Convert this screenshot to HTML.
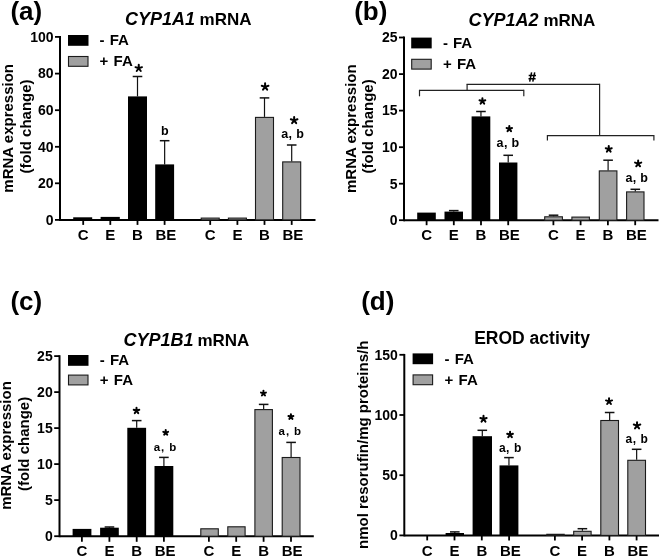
<!DOCTYPE html>
<html><head><meta charset="utf-8"><style>
html,body{margin:0;padding:0;background:#fff;}
svg{display:block;will-change:transform;}
text{font-family:"Liberation Sans", sans-serif;font-weight:bold;fill:#000;}
</style></head><body>
<svg width="660" height="557" viewBox="0 0 660 557">
<rect width="660" height="557" fill="#fff"/>
<text x="10.4" y="19.6" font-size="26" text-anchor="start">(a)</text>
<text x="124.9" y="25.3" font-size="18" text-anchor="start" font-style="italic">CYP1A1</text>
<text x="199.6" y="25.3" font-size="17" text-anchor="start">mRNA</text>
<line x1="60" y1="36.0" x2="60" y2="220.9" stroke="#000" stroke-width="2.0"/>
<line x1="55" y1="36.9" x2="60" y2="36.9" stroke="#000" stroke-width="1.8"/>
<text x="53.5" y="41.699999999999996" font-size="14" text-anchor="end">100</text>
<line x1="55" y1="73.6" x2="60" y2="73.6" stroke="#000" stroke-width="1.8"/>
<text x="53.5" y="78.39999999999999" font-size="14" text-anchor="end">80</text>
<line x1="55" y1="110.2" x2="60" y2="110.2" stroke="#000" stroke-width="1.8"/>
<text x="53.5" y="115.0" font-size="14" text-anchor="end">60</text>
<line x1="55" y1="146.8" x2="60" y2="146.8" stroke="#000" stroke-width="1.8"/>
<text x="53.5" y="151.60000000000002" font-size="14" text-anchor="end">40</text>
<line x1="55" y1="183.3" x2="60" y2="183.3" stroke="#000" stroke-width="1.8"/>
<text x="53.5" y="188.10000000000002" font-size="14" text-anchor="end">20</text>
<line x1="55" y1="219.9" x2="60" y2="219.9" stroke="#000" stroke-width="1.8"/>
<text x="53.5" y="224.70000000000002" font-size="14" text-anchor="end">0</text>
<line x1="60" y1="219.9" x2="315.5" y2="219.9" stroke="#000" stroke-width="2.0"/>
<line x1="83.2" y1="219.9" x2="83.2" y2="224.9" stroke="#000" stroke-width="1.8"/>
<line x1="110.3" y1="219.9" x2="110.3" y2="224.9" stroke="#000" stroke-width="1.8"/>
<line x1="137.5" y1="219.9" x2="137.5" y2="224.9" stroke="#000" stroke-width="1.8"/>
<line x1="164.6" y1="219.9" x2="164.6" y2="224.9" stroke="#000" stroke-width="1.8"/>
<line x1="210.2" y1="219.9" x2="210.2" y2="224.9" stroke="#000" stroke-width="1.8"/>
<line x1="237.4" y1="219.9" x2="237.4" y2="224.9" stroke="#000" stroke-width="1.8"/>
<line x1="264.5" y1="219.9" x2="264.5" y2="224.9" stroke="#000" stroke-width="1.8"/>
<line x1="291.7" y1="219.9" x2="291.7" y2="224.9" stroke="#000" stroke-width="1.8"/>
<text x="83.2" y="239.8" font-size="15" text-anchor="middle">C</text>
<text x="110.3" y="239.8" font-size="15" text-anchor="middle">E</text>
<text x="137.5" y="239.8" font-size="15" text-anchor="middle">B</text>
<text x="165.79999999999998" y="239.8" font-size="15" text-anchor="middle">BE</text>
<text x="210.2" y="239.8" font-size="15" text-anchor="middle">C</text>
<text x="237.4" y="239.8" font-size="15" text-anchor="middle">E</text>
<text x="264.5" y="239.8" font-size="15" text-anchor="middle">B</text>
<text x="292.9" y="239.8" font-size="15" text-anchor="middle">BE</text>
<rect x="73.2" y="217.3" width="19.0" height="2.5999999999999943" fill="#000"/>
<rect x="100.6" y="216.9" width="19.200000000000003" height="3.0" fill="#000"/>
<line x1="137.5" y1="76.5" x2="137.5" y2="96.4" stroke="#111" stroke-width="1.2"/>
<line x1="132.7" y1="76.5" x2="142.3" y2="76.5" stroke="#111" stroke-width="1.5"/>
<rect x="128" y="96.4" width="19" height="123.5" fill="#000"/>
<line x1="164.64999999999998" y1="140.7" x2="164.64999999999998" y2="164.4" stroke="#111" stroke-width="1.2"/>
<line x1="159.84999999999997" y1="140.7" x2="169.45" y2="140.7" stroke="#111" stroke-width="1.5"/>
<rect x="155.2" y="164.4" width="18.900000000000006" height="55.5" fill="#000"/>
<rect x="201.2" y="218.1" width="18.0" height="1.8000000000000114" fill="#a0a0a0" stroke="#1a1a1a" stroke-width="1.1"/>
<rect x="228.4" y="218.1" width="18.0" height="1.8000000000000114" fill="#a0a0a0" stroke="#1a1a1a" stroke-width="1.1"/>
<line x1="264.5" y1="97.9" x2="264.5" y2="116.9" stroke="#111" stroke-width="1.2"/>
<line x1="259.7" y1="97.9" x2="269.3" y2="97.9" stroke="#111" stroke-width="1.5"/>
<rect x="255.5" y="117.4" width="18" height="102.5" fill="#a0a0a0" stroke="#1a1a1a" stroke-width="1.1"/>
<line x1="291.7" y1="145.0" x2="291.7" y2="161.4" stroke="#111" stroke-width="1.2"/>
<line x1="286.9" y1="145.0" x2="296.5" y2="145.0" stroke="#111" stroke-width="1.5"/>
<rect x="282.7" y="161.9" width="18.0" height="58.0" fill="#a0a0a0" stroke="#1a1a1a" stroke-width="1.1"/>
<rect x="68" y="35" width="20.5" height="10.8" fill="#000"/>
<rect x="68.5" y="56.5" width="19.5" height="9.8" fill="#a0a0a0" stroke="#1a1a1a" stroke-width="1.1"/>
<text x="99.6" y="45" font-size="15" text-anchor="start">-</text>
<text x="109.69999999999999" y="45" font-size="15" text-anchor="start">FA</text>
<text x="99.6" y="66.2" font-size="15" text-anchor="start">+</text>
<text x="113.6" y="66.2" font-size="15" text-anchor="start">FA</text>
<text transform="translate(12.6,128.3) rotate(-90)" font-size="15" text-anchor="middle">mRNA expression</text>
<text transform="translate(30.8,126.5) rotate(-90)" font-size="15" text-anchor="middle">(fold change)</text>
<path d="M138.75 68.23L138.75 64.80M138.75 68.23L142.01 67.17M138.75 68.23L140.76 71.00M138.75 68.23L136.74 71.00M138.75 68.23L135.49 67.17" stroke="#000" stroke-width="2.0" stroke-linecap="round" fill="none"/>
<text x="164.79999999999998" y="135.3" font-size="12.5" text-anchor="middle">b</text>
<path d="M265.10 86.84L265.10 83.30M265.10 86.84L268.46 85.74M265.10 86.84L267.18 89.70M265.10 86.84L263.02 89.70M265.10 86.84L261.74 85.74" stroke="#000" stroke-width="2.0" stroke-linecap="round" fill="none"/>
<path d="M294.15 120.38L294.15 116.90M294.15 120.38L297.46 119.31M294.15 120.38L296.20 123.20M294.15 120.38L292.10 123.20M294.15 120.38L290.84 119.31" stroke="#000" stroke-width="2.0" stroke-linecap="round" fill="none"/>
<text x="281.2" y="138.3" font-size="12.5" text-anchor="start" letter-spacing="0.35">a, b</text>
<text x="354.2" y="19.6" font-size="26" text-anchor="start">(b)</text>
<text x="468.5" y="25.7" font-size="18" text-anchor="start" font-style="italic">CYP1A2</text>
<text x="543.4" y="25.7" font-size="17" text-anchor="start">mRNA</text>
<line x1="404" y1="36.6" x2="404" y2="221.2" stroke="#000" stroke-width="2.0"/>
<line x1="399" y1="37.5" x2="404" y2="37.5" stroke="#000" stroke-width="1.8"/>
<text x="397.5" y="42.3" font-size="14" text-anchor="end">25</text>
<line x1="399" y1="74.1" x2="404" y2="74.1" stroke="#000" stroke-width="1.8"/>
<text x="397.5" y="78.89999999999999" font-size="14" text-anchor="end">20</text>
<line x1="399" y1="110.6" x2="404" y2="110.6" stroke="#000" stroke-width="1.8"/>
<text x="397.5" y="115.39999999999999" font-size="14" text-anchor="end">15</text>
<line x1="399" y1="147.2" x2="404" y2="147.2" stroke="#000" stroke-width="1.8"/>
<text x="397.5" y="152.0" font-size="14" text-anchor="end">10</text>
<line x1="399" y1="183.7" x2="404" y2="183.7" stroke="#000" stroke-width="1.8"/>
<text x="397.5" y="188.5" font-size="14" text-anchor="end">5</text>
<line x1="399" y1="220.2" x2="404" y2="220.2" stroke="#000" stroke-width="1.8"/>
<text x="397.5" y="225.0" font-size="14" text-anchor="end">0</text>
<line x1="404" y1="220.2" x2="658.5" y2="220.2" stroke="#000" stroke-width="2.0"/>
<line x1="426.6" y1="220.2" x2="426.6" y2="225.2" stroke="#000" stroke-width="1.8"/>
<line x1="453.8" y1="220.2" x2="453.8" y2="225.2" stroke="#000" stroke-width="1.8"/>
<line x1="481" y1="220.2" x2="481" y2="225.2" stroke="#000" stroke-width="1.8"/>
<line x1="508.2" y1="220.2" x2="508.2" y2="225.2" stroke="#000" stroke-width="1.8"/>
<line x1="553.4" y1="220.2" x2="553.4" y2="225.2" stroke="#000" stroke-width="1.8"/>
<line x1="580.6" y1="220.2" x2="580.6" y2="225.2" stroke="#000" stroke-width="1.8"/>
<line x1="607.9" y1="220.2" x2="607.9" y2="225.2" stroke="#000" stroke-width="1.8"/>
<line x1="635.2" y1="220.2" x2="635.2" y2="225.2" stroke="#000" stroke-width="1.8"/>
<text x="426.6" y="240.3" font-size="15" text-anchor="middle">C</text>
<text x="453.8" y="240.3" font-size="15" text-anchor="middle">E</text>
<text x="481" y="240.3" font-size="15" text-anchor="middle">B</text>
<text x="509.4" y="240.3" font-size="15" text-anchor="middle">BE</text>
<text x="553.4" y="240.3" font-size="15" text-anchor="middle">C</text>
<text x="580.6" y="240.3" font-size="15" text-anchor="middle">E</text>
<text x="607.9" y="240.3" font-size="15" text-anchor="middle">B</text>
<text x="636.4000000000001" y="240.3" font-size="15" text-anchor="middle">BE</text>
<rect x="417.2" y="212.6" width="18.600000000000023" height="7.599999999999994" fill="#000"/>
<line x1="453.75" y1="210.6" x2="453.75" y2="211.6" stroke="#111" stroke-width="1.2"/>
<line x1="448.95" y1="210.6" x2="458.55" y2="210.6" stroke="#111" stroke-width="1.5"/>
<rect x="444.5" y="211.6" width="18.5" height="8.599999999999994" fill="#000"/>
<line x1="480.95000000000005" y1="111.5" x2="480.95000000000005" y2="116.4" stroke="#111" stroke-width="1.2"/>
<line x1="476.15000000000003" y1="111.5" x2="485.75000000000006" y2="111.5" stroke="#111" stroke-width="1.5"/>
<rect x="471.6" y="116.4" width="18.69999999999999" height="103.79999999999998" fill="#000"/>
<line x1="508.2" y1="155.3" x2="508.2" y2="162.5" stroke="#111" stroke-width="1.2"/>
<line x1="503.4" y1="155.3" x2="513.0" y2="155.3" stroke="#111" stroke-width="1.5"/>
<rect x="499" y="162.5" width="18.399999999999977" height="57.69999999999999" fill="#000"/>
<line x1="553.55" y1="215.2" x2="553.55" y2="216.3" stroke="#111" stroke-width="1.2"/>
<line x1="548.75" y1="215.2" x2="558.3499999999999" y2="215.2" stroke="#111" stroke-width="1.5"/>
<rect x="544.7" y="216.8" width="17.699999999999932" height="3.3999999999999773" fill="#a0a0a0" stroke="#1a1a1a" stroke-width="1.1"/>
<rect x="571.9" y="217.1" width="17.5" height="3.0999999999999943" fill="#a0a0a0" stroke="#1a1a1a" stroke-width="1.1"/>
<line x1="608.0999999999999" y1="160.2" x2="608.0999999999999" y2="170.4" stroke="#111" stroke-width="1.2"/>
<line x1="603.3" y1="160.2" x2="612.8999999999999" y2="160.2" stroke="#111" stroke-width="1.5"/>
<rect x="599.3" y="170.9" width="17.600000000000023" height="49.29999999999998" fill="#a0a0a0" stroke="#1a1a1a" stroke-width="1.1"/>
<line x1="635.3" y1="189.3" x2="635.3" y2="191.4" stroke="#111" stroke-width="1.2"/>
<line x1="630.5" y1="189.3" x2="640.0999999999999" y2="189.3" stroke="#111" stroke-width="1.5"/>
<rect x="626.6" y="191.9" width="17.399999999999977" height="28.299999999999983" fill="#a0a0a0" stroke="#1a1a1a" stroke-width="1.1"/>
<rect x="411.2" y="37.6" width="20.5" height="10.8" fill="#000"/>
<rect x="411.7" y="59.3" width="19.5" height="9.8" fill="#a0a0a0" stroke="#1a1a1a" stroke-width="1.1"/>
<text x="442.9" y="48" font-size="15" text-anchor="start">-</text>
<text x="453.0" y="48" font-size="15" text-anchor="start">FA</text>
<text x="442.9" y="69.4" font-size="15" text-anchor="start">+</text>
<text x="456.9" y="69.4" font-size="15" text-anchor="start">FA</text>
<text transform="translate(356,128.7) rotate(-90)" font-size="15" text-anchor="middle">mRNA expression</text>
<text transform="translate(373.3,126.4) rotate(-90)" font-size="15" text-anchor="middle">(fold change)</text>
<path d="M482.40 101.24L482.40 98.20M482.40 101.24L485.29 100.30M482.40 101.24L484.19 103.70M482.40 101.24L480.61 103.70M482.40 101.24L479.51 100.30" stroke="#000" stroke-width="2.0" stroke-linecap="round" fill="none"/>
<path d="M509.30 128.87L509.30 126.00M509.30 128.87L512.03 127.99M509.30 128.87L510.99 131.20M509.30 128.87L507.61 131.20M509.30 128.87L506.57 127.99" stroke="#000" stroke-width="2.0" stroke-linecap="round" fill="none"/>
<text x="496.6" y="146.5" font-size="12.5" text-anchor="start" letter-spacing="0.35">a, b</text>
<path d="M608.75 149.15L608.75 146.00M608.75 149.15L611.75 148.18M608.75 149.15L610.60 151.70M608.75 149.15L606.90 151.70M608.75 149.15L605.75 148.18" stroke="#000" stroke-width="2.0" stroke-linecap="round" fill="none"/>
<path d="M638.15 163.66L638.15 160.40M638.15 163.66L641.25 162.65M638.15 163.66L640.07 166.30M638.15 163.66L636.23 166.30M638.15 163.66L635.05 162.65" stroke="#000" stroke-width="2.0" stroke-linecap="round" fill="none"/>
<text x="625.4" y="181.7" font-size="12.5" text-anchor="start" letter-spacing="0.35">a, b</text>
<text x="10.4" y="310" font-size="26" text-anchor="start">(c)</text>
<text x="123.5" y="345.6" font-size="18" text-anchor="start" font-style="italic">CYP1B1</text>
<text x="197.4" y="345.6" font-size="17" text-anchor="start">mRNA</text>
<line x1="59.5" y1="355.20000000000005" x2="59.5" y2="537.2" stroke="#000" stroke-width="2.0"/>
<line x1="54.2" y1="356.1" x2="59.5" y2="356.1" stroke="#000" stroke-width="1.8"/>
<text x="52.7" y="360.90000000000003" font-size="14" text-anchor="end">25</text>
<line x1="54.2" y1="392.1" x2="59.5" y2="392.1" stroke="#000" stroke-width="1.8"/>
<text x="52.7" y="396.90000000000003" font-size="14" text-anchor="end">20</text>
<line x1="54.2" y1="428.1" x2="59.5" y2="428.1" stroke="#000" stroke-width="1.8"/>
<text x="52.7" y="432.90000000000003" font-size="14" text-anchor="end">15</text>
<line x1="54.2" y1="464.1" x2="59.5" y2="464.1" stroke="#000" stroke-width="1.8"/>
<text x="52.7" y="468.90000000000003" font-size="14" text-anchor="end">10</text>
<line x1="54.2" y1="500.1" x2="59.5" y2="500.1" stroke="#000" stroke-width="1.8"/>
<text x="52.7" y="504.90000000000003" font-size="14" text-anchor="end">5</text>
<line x1="54.2" y1="536.2" x2="59.5" y2="536.2" stroke="#000" stroke-width="1.8"/>
<text x="52.7" y="541.0" font-size="14" text-anchor="end">0</text>
<line x1="59.5" y1="536.2" x2="313.8" y2="536.2" stroke="#000" stroke-width="2.0"/>
<line x1="81.9" y1="536.2" x2="81.9" y2="541.8000000000001" stroke="#000" stroke-width="1.8"/>
<line x1="109.4" y1="536.2" x2="109.4" y2="541.8000000000001" stroke="#000" stroke-width="1.8"/>
<line x1="136.7" y1="536.2" x2="136.7" y2="541.8000000000001" stroke="#000" stroke-width="1.8"/>
<line x1="163.9" y1="536.2" x2="163.9" y2="541.8000000000001" stroke="#000" stroke-width="1.8"/>
<line x1="208.9" y1="536.2" x2="208.9" y2="541.8000000000001" stroke="#000" stroke-width="1.8"/>
<line x1="236.2" y1="536.2" x2="236.2" y2="541.8000000000001" stroke="#000" stroke-width="1.8"/>
<line x1="263.6" y1="536.2" x2="263.6" y2="541.8000000000001" stroke="#000" stroke-width="1.8"/>
<line x1="291" y1="536.2" x2="291" y2="541.8000000000001" stroke="#000" stroke-width="1.8"/>
<text x="81.9" y="555.8" font-size="15" text-anchor="middle">C</text>
<text x="109.4" y="555.8" font-size="15" text-anchor="middle">E</text>
<text x="136.7" y="555.8" font-size="15" text-anchor="middle">B</text>
<text x="165.1" y="555.8" font-size="15" text-anchor="middle">BE</text>
<text x="208.9" y="555.8" font-size="15" text-anchor="middle">C</text>
<text x="236.2" y="555.8" font-size="15" text-anchor="middle">E</text>
<text x="263.6" y="555.8" font-size="15" text-anchor="middle">B</text>
<text x="292.2" y="555.8" font-size="15" text-anchor="middle">BE</text>
<rect x="72.6" y="528.9" width="18.80000000000001" height="7.300000000000068" fill="#000"/>
<line x1="109.44999999999999" y1="527.0" x2="109.44999999999999" y2="527.7" stroke="#111" stroke-width="1.2"/>
<line x1="104.64999999999999" y1="527.0" x2="114.24999999999999" y2="527.0" stroke="#111" stroke-width="1.5"/>
<rect x="100.1" y="527.7" width="18.700000000000003" height="8.5" fill="#000"/>
<line x1="136.7" y1="420.6" x2="136.7" y2="427.8" stroke="#111" stroke-width="1.2"/>
<line x1="131.89999999999998" y1="420.6" x2="141.5" y2="420.6" stroke="#111" stroke-width="1.5"/>
<rect x="127.3" y="427.8" width="18.799999999999997" height="108.40000000000003" fill="#000"/>
<line x1="163.9" y1="457.4" x2="163.9" y2="466" stroke="#111" stroke-width="1.2"/>
<line x1="159.1" y1="457.4" x2="168.70000000000002" y2="457.4" stroke="#111" stroke-width="1.5"/>
<rect x="154.5" y="466" width="18.80000000000001" height="70.20000000000005" fill="#000"/>
<rect x="200.8" y="528.8" width="17.5" height="7.400000000000091" fill="#a0a0a0" stroke="#1a1a1a" stroke-width="1.1"/>
<rect x="227.8" y="526.8" width="17.299999999999983" height="9.400000000000091" fill="#a0a0a0" stroke="#1a1a1a" stroke-width="1.1"/>
<line x1="263.65" y1="404.4" x2="263.65" y2="409.1" stroke="#111" stroke-width="1.2"/>
<line x1="258.84999999999997" y1="404.4" x2="268.45" y2="404.4" stroke="#111" stroke-width="1.5"/>
<rect x="254.9" y="409.6" width="17.49999999999997" height="126.60000000000002" fill="#a0a0a0" stroke="#1a1a1a" stroke-width="1.1"/>
<line x1="291.1" y1="442.4" x2="291.1" y2="457" stroke="#111" stroke-width="1.2"/>
<line x1="286.3" y1="442.4" x2="295.90000000000003" y2="442.4" stroke="#111" stroke-width="1.5"/>
<rect x="282.2" y="457.5" width="17.80000000000001" height="78.70000000000005" fill="#a0a0a0" stroke="#1a1a1a" stroke-width="1.1"/>
<rect x="68" y="355" width="20.5" height="10.8" fill="#000"/>
<rect x="68.5" y="375.1" width="19.5" height="9.8" fill="#a0a0a0" stroke="#1a1a1a" stroke-width="1.1"/>
<text x="99.8" y="364.8" font-size="15" text-anchor="start">-</text>
<text x="109.89999999999999" y="364.8" font-size="15" text-anchor="start">FA</text>
<text x="99.8" y="384.6" font-size="15" text-anchor="start">+</text>
<text x="113.8" y="384.6" font-size="15" text-anchor="start">FA</text>
<text transform="translate(11,445.5) rotate(-90)" font-size="15" text-anchor="middle">mRNA expression</text>
<text transform="translate(29.2,443.9) rotate(-90)" font-size="15" text-anchor="middle">(fold change)</text>
<path d="M136.50 410.73L136.50 407.80M136.50 410.73L139.29 409.82M136.50 410.73L138.22 413.10M136.50 410.73L134.78 413.10M136.50 410.73L133.71 409.82" stroke="#000" stroke-width="2.0" stroke-linecap="round" fill="none"/>
<path d="M165.70 432.64L165.70 430.10M165.70 432.64L168.12 431.86M165.70 432.64L167.19 434.70M165.70 432.64L164.21 434.70M165.70 432.64L163.28 431.86" stroke="#000" stroke-width="2.0" stroke-linecap="round" fill="none"/>
<text x="153.8" y="450.9" font-size="11.5" text-anchor="start" letter-spacing="0.9">a, b</text>
<path d="M263.45 393.40L263.45 390.80M263.45 393.40L265.92 392.60M263.45 393.40L264.98 395.50M263.45 393.40L261.92 395.50M263.45 393.40L260.98 392.60" stroke="#000" stroke-width="2.0" stroke-linecap="round" fill="none"/>
<path d="M290.90 416.80L290.90 414.20M290.90 416.80L293.37 416.00M290.90 416.80L292.43 418.90M290.90 416.80L289.37 418.90M290.90 416.80L288.43 416.00" stroke="#000" stroke-width="2.0" stroke-linecap="round" fill="none"/>
<text x="278.6" y="434.8" font-size="11.5" text-anchor="start" letter-spacing="0.9">a, b</text>
<text x="361.2" y="309.8" font-size="26" text-anchor="start">(d)</text>
<text x="474.2" y="343.7" font-size="17.5" text-anchor="start">EROD activity</text>
<line x1="404.3" y1="353.90000000000003" x2="404.3" y2="536.4" stroke="#000" stroke-width="2.0"/>
<line x1="399.4" y1="354.8" x2="404.3" y2="354.8" stroke="#000" stroke-width="1.8"/>
<text x="397.9" y="359.6" font-size="14" text-anchor="end">150</text>
<line x1="399.4" y1="415" x2="404.3" y2="415" stroke="#000" stroke-width="1.8"/>
<text x="397.9" y="419.8" font-size="14" text-anchor="end">100</text>
<line x1="399.4" y1="475.2" x2="404.3" y2="475.2" stroke="#000" stroke-width="1.8"/>
<text x="397.9" y="480.0" font-size="14" text-anchor="end">50</text>
<line x1="399.4" y1="535.4" x2="404.3" y2="535.4" stroke="#000" stroke-width="1.8"/>
<text x="397.9" y="540.1999999999999" font-size="14" text-anchor="end">0</text>
<line x1="404.3" y1="535.4" x2="659" y2="535.4" stroke="#000" stroke-width="2.0"/>
<line x1="427.2" y1="535.4" x2="427.2" y2="540.4" stroke="#000" stroke-width="1.8"/>
<line x1="454.5" y1="535.4" x2="454.5" y2="540.4" stroke="#000" stroke-width="1.8"/>
<line x1="481.8" y1="535.4" x2="481.8" y2="540.4" stroke="#000" stroke-width="1.8"/>
<line x1="509.1" y1="535.4" x2="509.1" y2="540.4" stroke="#000" stroke-width="1.8"/>
<line x1="554.9" y1="535.4" x2="554.9" y2="540.4" stroke="#000" stroke-width="1.8"/>
<line x1="582.1" y1="535.4" x2="582.1" y2="540.4" stroke="#000" stroke-width="1.8"/>
<line x1="609.4" y1="535.4" x2="609.4" y2="540.4" stroke="#000" stroke-width="1.8"/>
<line x1="636.6" y1="535.4" x2="636.6" y2="540.4" stroke="#000" stroke-width="1.8"/>
<text x="427.2" y="555.5" font-size="15" text-anchor="middle">C</text>
<text x="454.5" y="555.5" font-size="15" text-anchor="middle">E</text>
<text x="481.8" y="555.5" font-size="15" text-anchor="middle">B</text>
<text x="510.3" y="555.5" font-size="15" text-anchor="middle">BE</text>
<text x="554.9" y="555.5" font-size="15" text-anchor="middle">C</text>
<text x="582.1" y="555.5" font-size="15" text-anchor="middle">E</text>
<text x="609.4" y="555.5" font-size="15" text-anchor="middle">B</text>
<text x="637.8000000000001" y="555.5" font-size="15" text-anchor="middle">BE</text>
<line x1="454.8" y1="531.9" x2="454.8" y2="533.0" stroke="#111" stroke-width="1.2"/>
<line x1="450.0" y1="531.9" x2="459.6" y2="531.9" stroke="#111" stroke-width="1.5"/>
<rect x="445.6" y="533.0" width="18.399999999999977" height="2.3999999999999773" fill="#000"/>
<line x1="482.3" y1="430.3" x2="482.3" y2="436.2" stroke="#111" stroke-width="1.2"/>
<line x1="477.5" y1="430.3" x2="487.1" y2="430.3" stroke="#111" stroke-width="1.5"/>
<rect x="472.6" y="436.2" width="19.399999999999977" height="99.19999999999999" fill="#000"/>
<line x1="508.95" y1="457.6" x2="508.95" y2="465.4" stroke="#111" stroke-width="1.2"/>
<line x1="504.15" y1="457.6" x2="513.75" y2="457.6" stroke="#111" stroke-width="1.5"/>
<rect x="499.5" y="465.4" width="18.899999999999977" height="70.0" fill="#000"/>
<rect x="546.8" y="534.3" width="17.40000000000009" height="1.1000000000000227" fill="#a0a0a0" stroke="#1a1a1a" stroke-width="1.1"/>
<line x1="582.4000000000001" y1="528.7" x2="582.4000000000001" y2="530.8" stroke="#111" stroke-width="1.2"/>
<line x1="577.6000000000001" y1="528.7" x2="587.2" y2="528.7" stroke="#111" stroke-width="1.5"/>
<rect x="573.7" y="531.3" width="17.399999999999977" height="4.100000000000023" fill="#a0a0a0" stroke="#1a1a1a" stroke-width="1.1"/>
<line x1="609.65" y1="412.5" x2="609.65" y2="420" stroke="#111" stroke-width="1.2"/>
<line x1="604.85" y1="412.5" x2="614.4499999999999" y2="412.5" stroke="#111" stroke-width="1.5"/>
<rect x="600.8" y="420.5" width="17.700000000000045" height="114.89999999999998" fill="#a0a0a0" stroke="#1a1a1a" stroke-width="1.1"/>
<line x1="636.65" y1="449.3" x2="636.65" y2="459.8" stroke="#111" stroke-width="1.2"/>
<line x1="631.85" y1="449.3" x2="641.4499999999999" y2="449.3" stroke="#111" stroke-width="1.5"/>
<rect x="627.8" y="460.3" width="17.700000000000045" height="75.09999999999997" fill="#a0a0a0" stroke="#1a1a1a" stroke-width="1.1"/>
<rect x="412.6" y="353.4" width="20.5" height="10.8" fill="#000"/>
<rect x="413.1" y="374.9" width="19.5" height="9.8" fill="#a0a0a0" stroke="#1a1a1a" stroke-width="1.1"/>
<text x="444.6" y="363.8" font-size="15" text-anchor="start">-</text>
<text x="454.70000000000005" y="363.8" font-size="15" text-anchor="start">FA</text>
<text x="444.6" y="384.6" font-size="15" text-anchor="start">+</text>
<text x="458.6" y="384.6" font-size="15" text-anchor="start">FA</text>
<text transform="translate(368.3,444.8) rotate(-90)" font-size="15" text-anchor="middle">nmol resorufin/mg proteins/h</text>
<path d="M483.50 419.02L483.50 415.70M483.50 419.02L486.65 417.99M483.50 419.02L485.45 421.70M483.50 419.02L481.55 421.70M483.50 419.02L480.35 417.99" stroke="#000" stroke-width="2.0" stroke-linecap="round" fill="none"/>
<path d="M510.05 434.69L510.05 431.70M510.05 434.69L512.89 433.76M510.05 434.69L511.80 437.10M510.05 434.69L508.30 437.10M510.05 434.69L507.21 433.76" stroke="#000" stroke-width="2.0" stroke-linecap="round" fill="none"/>
<text x="498.9" y="452.2" font-size="12" text-anchor="start" letter-spacing="0.55">a, b</text>
<path d="M609.05 401.41L609.05 398.20M609.05 401.41L612.10 400.42M609.05 401.41L610.93 404.00M609.05 401.41L607.17 404.00M609.05 401.41L606.00 400.42" stroke="#000" stroke-width="2.0" stroke-linecap="round" fill="none"/>
<path d="M637.05 425.63L637.05 422.20M637.05 425.63L640.31 424.57M637.05 425.63L639.06 428.40M637.05 425.63L635.04 428.40M637.05 425.63L633.79 424.57" stroke="#000" stroke-width="2.0" stroke-linecap="round" fill="none"/>
<text x="625.5" y="442.9" font-size="12" text-anchor="start" letter-spacing="0.55">a, b</text>
<line x1="419.5" y1="90.4" x2="523.8" y2="90.4" stroke="#222" stroke-width="1.2"/>
<line x1="419.5" y1="89.8" x2="419.5" y2="96.3" stroke="#222" stroke-width="1.2"/>
<line x1="523.8" y1="89.8" x2="523.8" y2="96.3" stroke="#222" stroke-width="1.2"/>
<line x1="467.1" y1="84.4" x2="467.1" y2="90.4" stroke="#222" stroke-width="1.2"/>
<line x1="466.5" y1="84.4" x2="599.6" y2="84.4" stroke="#222" stroke-width="1.2"/>
<line x1="599.6" y1="83.8" x2="599.6" y2="135.6" stroke="#222" stroke-width="1.2"/>
<line x1="547.4" y1="135.6" x2="653.9" y2="135.6" stroke="#222" stroke-width="1.2"/>
<line x1="547.4" y1="135" x2="547.4" y2="140.6" stroke="#222" stroke-width="1.2"/>
<line x1="653.9" y1="135" x2="653.9" y2="140.6" stroke="#222" stroke-width="1.2"/>
<path d="M531.6 72.4L529.7 81.7M534.7 72.4L532.8 81.7M528.7 75.4H536M528.5 78.7H535.6" stroke="#000" stroke-width="1.5" fill="none"/>
</svg>
</body></html>
